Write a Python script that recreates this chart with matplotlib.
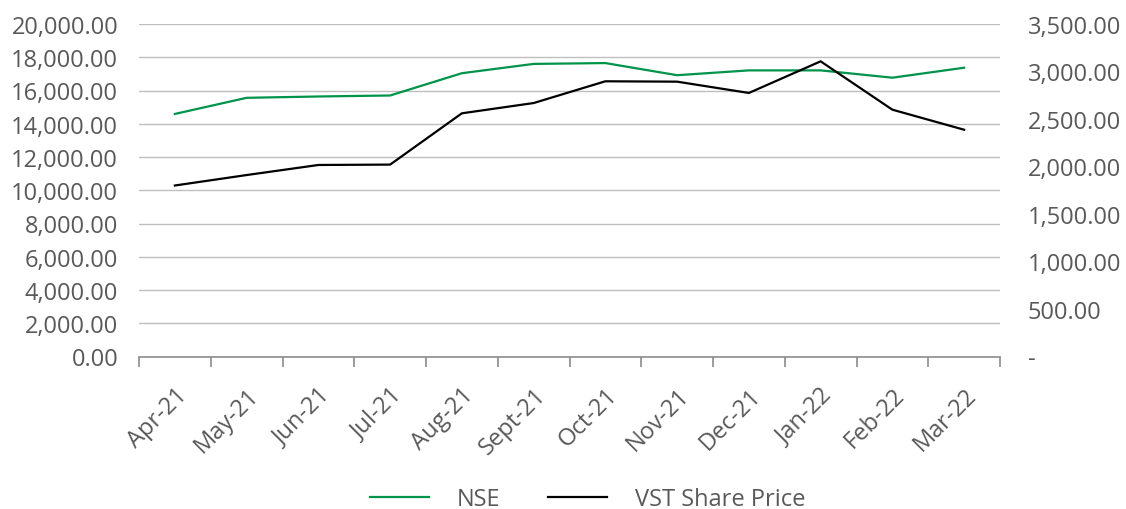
import matplotlib
matplotlib.use("Agg")
import matplotlib.pyplot as plt
from matplotlib.ticker import FuncFormatter, MultipleLocator, FixedLocator

months = ["Apr-21", "May-21", "Jun-21", "Jul-21", "Aug-21", "Sept-21",
          "Oct-21", "Nov-21", "Dec-21", "Jan-22", "Feb-22", "Mar-22"]
nse = [14590, 15560, 15640, 15700, 17040, 17600,
       17650, 16920, 17210, 17210, 16770, 17370]
vst = [1800, 1910, 2016, 2020, 2560, 2668,
       2897, 2893, 2774, 3107, 2598, 2387]

plt.rcParams['font.family'] = ['Open Sans', 'DejaVu Sans']
text_color = '#595959'
fs = 17

fig = plt.figure(figsize=(11.26, 5.10), dpi=100)
ax = fig.add_axes([139/1126, 1-357.5/510, (1000-139)/1126, (357.5-25)/510])
ax2 = ax.twinx()

x = list(range(len(months)))
l1, = ax.plot(x, nse, color='#00934A', lw=1.6, label='NSE', zorder=3)
l2, = ax2.plot(x, vst, color='#000000', lw=1.6, label='VST Share Price', zorder=3)

ax.set_xlim(-0.5, len(months) - 0.5)
ax.set_ylim(0, 20000)
ax2.set_ylim(0, 3500)

ax.yaxis.set_major_locator(MultipleLocator(2000))
ax2.yaxis.set_major_locator(MultipleLocator(500))
ax.yaxis.set_major_formatter(FuncFormatter(lambda v, p: f"{v:,.2f}"))
ax2.yaxis.set_major_formatter(FuncFormatter(lambda v, p: "-" if v == 0 else f"{v:,.2f}"))

ax.grid(axis='y', color='#BFBFBF', lw=1.0)
ax.set_axisbelow(True)

for a in (ax, ax2):
    for s in ('top', 'left', 'right', 'bottom'):
        a.spines[s].set_visible(False)
ax.spines['bottom'].set_visible(True)
ax.spines['bottom'].set_color('#8C8C8C')
ax.spines['bottom'].set_linewidth(1.2)

ax.tick_params(axis='y', length=0, labelsize=fs, labelcolor=text_color, pad=15)
ax2.tick_params(axis='y', length=0, labelsize=fs, labelcolor=text_color, pad=20)

# category labels at centers, tick marks at boundaries
ax.set_xticks(x)
ax.set_xticklabels(months, rotation=45, ha='right', rotation_mode='anchor')
ax.tick_params(axis='x', which='major', length=0, labelsize=fs, labelcolor=text_color, pad=19)
ax.xaxis.set_minor_locator(FixedLocator([i - 0.5 for i in range(len(months) + 1)]))
ax.tick_params(axis='x', which='minor', length=7, width=1.2, color='#8C8C8C', direction='out')

fig.legend(handles=[l1, l2], loc='center', bbox_to_anchor=(0.522, 1-500/510),
           ncol=2, frameon=False, fontsize=fs, labelcolor=text_color,
           handlelength=2.5, handletextpad=1.2, columnspacing=2.0)

fig.savefig("out.png", dpi=100)
